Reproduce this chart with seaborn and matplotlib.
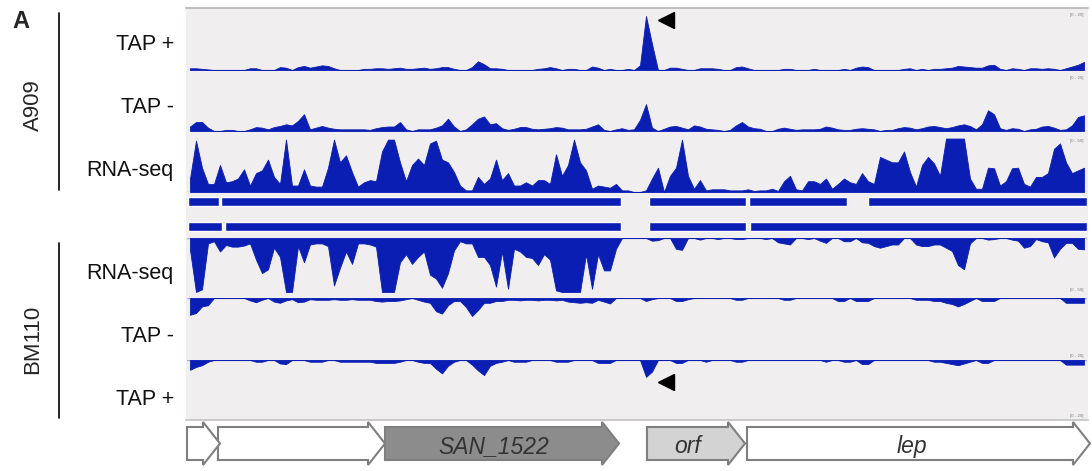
import numpy as np
import pandas as pd
import matplotlib
matplotlib.use("Agg")
import matplotlib.pyplot as plt
from matplotlib.patches import Polygon
from matplotlib.lines import Line2D
import seaborn as sns

# ---------------- data ----------------
region_len = 4500          # bp shown
bin_size = 30              # bp per coverage bin (150 bins)
bin_centers = np.arange(bin_size / 2, region_len, bin_size)

# coverage, % of track data range
a909_tap_plus = [
    3, 3, 2, 1, 0, 0, 0, 0, 0, 0,
    3, 3, 0, 0, 0, 5, 4, 0, 5, 7,
    4, 6, 8, 7, 3, 0, 0, 0, 0, 2,
    2, 3, 3, 2, 3, 4, 2, 2, 3, 4,
    2, 3, 5, 5, 2, 0, 0, 5, 15, 10,
    3, 3, 2, 0, 0, 0, 0, 0, 2, 3,
    5, 3, 0, 2, 2, 0, 0, 6, 4, 0,
    2, 0, 0, 2, 0, 8, 93, 45, 0, 0,
    4, 4, 2, 0, 0, 3, 3, 3, 2, 0,
    0, 5, 6, 3, 0, 0, 0, 0, 0, 2,
    2, 0, 0, 0, 2, 0, 0, 0, 0, 2,
    0, 4, 6, 5, 0, 0, 0, 0, 0, 2,
    3, 0, 2, 0, 2, 2, 3, 4, 7, 6,
    5, 4, 4, 8, 9, 2, 0, 3, 2, 0,
    3, 3, 2, 3, 2, 0, 3, 6, 9, 14,
]
a909_tap_minus = [
    8, 16, 16, 6, 0, 0, 2, 2, 0, 0,
    3, 7, 6, 3, 7, 9, 12, 10, 18, 30,
    3, 6, 9, 6, 4, 3, 3, 3, 3, 3,
    2, 5, 7, 8, 8, 16, 3, 0, 3, 3,
    3, 6, 10, 22, 8, 0, 3, 12, 22, 26,
    12, 14, 5, 2, 4, 7, 7, 4, 3, 4,
    5, 7, 6, 3, 3, 3, 4, 8, 12, 2,
    0, 3, 5, 2, 3, 20, 48, 6, 0, 4,
    8, 9, 6, 3, 10, 8, 4, 3, 2, 0,
    2, 10, 16, 8, 5, 4, 0, 0, 4, 6,
    4, 2, 3, 3, 3, 4, 8, 6, 3, 2,
    2, 4, 5, 4, 3, 0, 2, 2, 5, 7,
    6, 3, 5, 8, 9, 7, 5, 7, 10, 12,
    9, 3, 12, 37, 30, 5, 2, 5, 4, 0,
    3, 4, 8, 9, 6, 2, 3, 10, 25, 28,
]
a909_rnaseq = [
    25, 95, 45, 15, 15, 50, 18, 20, 25, 42,
    12, 35, 40, 60, 28, 15, 97, 12, 12, 42,
    12, 10, 10, 45, 97, 55, 68, 37, 10, 18,
    22, 20, 75, 97, 97, 55, 20, 50, 62, 50,
    90, 95, 60, 55, 37, 12, 3, 3, 28, 15,
    25, 60, 22, 35, 12, 12, 18, 12, 22, 22,
    15, 70, 30, 50, 97, 55, 40, 6, 12, 10,
    8, 15, 3, 3, 0, 0, 3, 25, 45, 0,
    30, 45, 97, 30, 6, 22, 3, 5, 5, 5,
    3, 3, 3, 5, 2, 3, 3, 6, 2, 20,
    30, 5, 3, 20, 20, 15, 25, 6, 15, 25,
    18, 15, 35, 20, 15, 65, 60, 55, 55, 75,
    37, 10, 50, 65, 53, 30, 99, 99, 99, 99,
    25, 6, 6, 45, 44, 12, 20, 44, 45, 15,
    10, 28, 28, 35, 80, 90, 55, 35, 40, 45,
]
bm110_rnaseq = [
    22, 100, 95, 10, 6, 25, 13, 16, 16, 14,
    10, 40, 65, 58, 18, 35, 100, 100, 15, 45,
    12, 10, 10, 15, 88, 55, 25, 48, 10, 10,
    12, 16, 100, 100, 100, 45, 30, 48, 35, 25,
    68, 75, 92, 65, 23, 6, 10, 10, 35, 35,
    50, 90, 25, 94, 20, 25, 35, 37, 50, 30,
    40, 97, 100, 100, 100, 100, 30, 94, 30, 60,
    60, 20, 0, 0, 0, 0, 0, 5, 4, 0,
    0, 20, 22, 0, 0, 3, 0, 0, 2, 0,
    0, 2, 2, 0, 0, 0, 2, 0, 8, 10,
    12, 0, 0, 2, 0, 5, 9, 0, 0, 6,
    6, 0, 8, 9, 15, 18, 15, 12, 12, 0,
    0, 12, 15, 15, 12, 12, 18, 24, 50, 58,
    10, 0, 0, 3, 2, 0, 0, 3, 5, 18,
    15, 2, 6, 8, 36, 20, 9, 9, 20, 21,
]
bm110_tap_minus = [
    28, 25, 14, 12, 0, 0, 0, 0, 0, 0,
    4, 7, 3, 0, 6, 8, 4, 2, 7, 6,
    2, 3, 3, 3, 2, 3, 3, 2, 3, 3,
    3, 5, 6, 5, 5, 4, 2, 0, 3, 6,
    8, 22, 26, 12, 5, 5, 15, 30, 20, 8,
    8, 5, 5, 3, 3, 4, 3, 3, 4, 3,
    3, 4, 3, 6, 7, 8, 7, 8, 3, 6,
    9, 0, 0, 0, 0, 0, 5, 2, 0, 0,
    0, 5, 5, 2, 0, 0, 0, 0, 0, 0,
    0, 3, 3, 0, 0, 0, 0, 0, 0, 3,
    3, 0, 0, 0, 0, 0, 0, 0, 5, 5,
    0, 5, 5, 5, 0, 0, 0, 0, 0, 0,
    0, 3, 3, 3, 5, 5, 8, 10, 14, 10,
    5, 0, 5, 5, 5, 0, 0, 0, 0, 0,
    0, 0, 0, 0, 0, 0, 8, 8, 8, 8,
]
bm110_tap_plus = [
    17, 12, 9, 3, 0, 0, 0, 0, 0, 0,
    0, 3, 3, 0, 0, 6, 7, 0, 0, 0,
    3, 3, 3, 0, 0, 3, 3, 3, 3, 3,
    3, 5, 5, 5, 5, 3, 0, 0, 3, 5,
    5, 15, 23, 10, 3, 0, 0, 8, 18, 26,
    10, 5, 3, 0, 3, 3, 3, 0, 0, 0,
    0, 3, 3, 3, 0, 0, 0, 0, 5, 5,
    5, 0, 0, 0, 0, 0, 29, 20, 0, 0,
    0, 5, 5, 0, 0, 0, 3, 0, 0, 0,
    0, 3, 3, 0, 0, 0, 0, 0, 0, 0,
    0, 0, 0, 0, 0, 0, 3, 0, 0, 3,
    3, 0, 7, 7, 0, 0, 0, 0, 0, 0,
    0, 0, 0, 0, 3, 3, 5, 7, 9, 6,
    3, 0, 5, 5, 0, 0, 0, 0, 0, 0,
    0, 0, 0, 0, 0, 0, 8, 8, 8, 8,
]

track_labels = ["TAP +", "TAP -", "RNA-seq", "RNA-seq", "TAP -", "TAP +"]
strain_labels = ["A909", "BM110"]
range_labels = ["[0 - 20]", "[0 - 20]", "[0 - 50]", "[0 - 50]", "[0 - 20]", "[0 - 20]"]

# annotation feature rows (bp start, bp end)
feature_row1 = [(5, 160), (170, 2170), (2310, 2795), (2810, 3300), (3405, 4500)]
feature_row2 = [(5, 175), (190, 2170), (2310, 2795), (2815, 4500)]

# genes (bp)
gene_names = ["", "", "SAN_1522", "orf", "lep"]
gene_starts = [0, 155, 990, 2300, 2800]
gene_ends = [165, 990, 2160, 2790, 4515]
gene_fills = ["white", "white", "#8c8c8c", "#d3d3d3", "white"]

# TSS marks (bp)
tss_a909 = 2395
tss_bm110 = 2395

# ---------------- drawing ----------------
sns.set_theme(style="white")
plt.rcParams["font.family"] = ["Liberation Sans", "DejaVu Sans"]

W, H = 1092, 471
BLUE = "#0a1eb4"
fig = plt.figure(figsize=(W / 100, H / 100), dpi=100)
fig.patch.set_facecolor("white")


def px_axes(x0, y0, x1, y1):
    return fig.add_axes([x0 / W, 1 - y1 / H, (x1 - x0) / W, (y1 - y0) / H])


def fx(x):
    return x / W


def fy(y):
    return 1 - y / H


# panel background
bg = px_axes(186, 8, 1088, 420)
bg.set_facecolor("#f0eeee")
bg.set_xticks([])
bg.set_yticks([])
bg.spines["left"].set_visible(False)
bg.spines["right"].set_visible(False)
bg.spines["top"].set_color("#b5b5b5")
bg.spines["bottom"].set_color("#c5c5c5")
bg.spines["top"].set_linewidth(1.2)
bg.set_zorder(0)

tracks = [
    (a909_tap_plus, 12, 70, False),
    (a909_tap_minus, 75, 131, False),
    (a909_rnaseq, 138, 192, False),
    (bm110_rnaseq, 238, 292, True),
    (bm110_tap_minus, 298, 358, True),
    (bm110_tap_plus, 360, 418, True),
]
track_axes = []
for vals, top, bot, rev in tracks:
    ax = px_axes(187, top, 1087, bot)
    df = pd.DataFrame({"pos": bin_centers, "cov": np.array(vals, dtype=float)})
    sns.histplot(data=df, x="pos", weights="cov", binwidth=bin_size,
                 binrange=(0, region_len),
                 element="poly", fill=True, color=BLUE, alpha=1.0,
                 linewidth=0.6, edgecolor=BLUE, ax=ax)
    ax.set_xlim(0, region_len)
    if rev:
        ax.set_ylim(100, 0)
    else:
        ax.set_ylim(0, 100)
    ax.axhline(0, color="#a9aedb", lw=1.0, zorder=0.5)
    ax.set_axis_off()
    ax.patch.set_alpha(0)
    track_axes.append(ax)

# range labels
for i, (vals, top, bot, rev) in enumerate(tracks):
    yy = top + 3 if not rev else bot - 2
    fig.text(fx(1084), fy(yy), range_labels[i], fontsize=3.2, color="#808080",
             ha="right", va="center")

# feature rows
fa = px_axes(187, 194, 1087, 233)
fa.set_xlim(0, region_len)
fa.set_ylim(233, 194)
fa.broken_barh([(s, e - s) for s, e in feature_row1], (197, 8.5), facecolors=BLUE)
fa.broken_barh([(s, e - s) for s, e in feature_row2], (222, 8.5), facecolors=BLUE)
fa.set_axis_off()
fa.patch.set_alpha(0)

# TSS arrowheads
track_axes[0].plot([tss_a909], [86], marker="<", ms=11, color="black",
                   clip_on=False, linestyle="none")
track_axes[5].plot([tss_bm110], [38], marker="<", ms=11, color="black",
                   clip_on=False, linestyle="none")

# gene arrows
ga = px_axes(187, 420, 1087, 468)
ga.set_xlim(0, region_len)
ga.set_ylim(468, 420)
ga.set_axis_off()
ga.patch.set_alpha(0)
head = 85
order = [1, 0, 2, 3, 4]
for k in order:
    s, e = gene_starts[k], gene_ends[k]
    hb = e - head
    pts = [(s, 427), (hb, 427), (hb, 422), (e, 443.5), (hb, 465), (hb, 460), (s, 460)]
    ga.add_patch(Polygon(pts, closed=True, facecolor=gene_fills[k], edgecolor="#7f7f7f",
                         lw=1.5, clip_on=False, joinstyle="miter"))
    if gene_names[k]:
        ga.text((s + hb) / 2 if k != 4 else 3625, 453, gene_names[k], fontstyle="italic",
                fontsize=16.5, color="#333333", ha="center", va="baseline")

# left labels
fig.text(fx(12), fy(22), "A", fontsize=17, fontweight="bold", ha="left", va="center")
fig.add_artist(Line2D([fx(59), fx(59)], [fy(13), fy(190)], color="black", lw=1.2))
fig.add_artist(Line2D([fx(59), fx(59)], [fy(243), fy(418)], color="black", lw=1.2))
fig.text(fx(33), fy(105), strain_labels[0], fontsize=16, rotation=90, ha="center", va="center")
fig.text(fx(33), fy(339), strain_labels[1], fontsize=16, rotation=90, ha="center", va="center")

label_baselines = [50, 113, 176, 279, 342, 405]
for lab, yb in zip(track_labels, label_baselines):
    fig.text(fx(174), fy(yb), lab, fontsize=15.5, ha="right", va="baseline", color="#111111")

fig.savefig("out.png", dpi=100)
